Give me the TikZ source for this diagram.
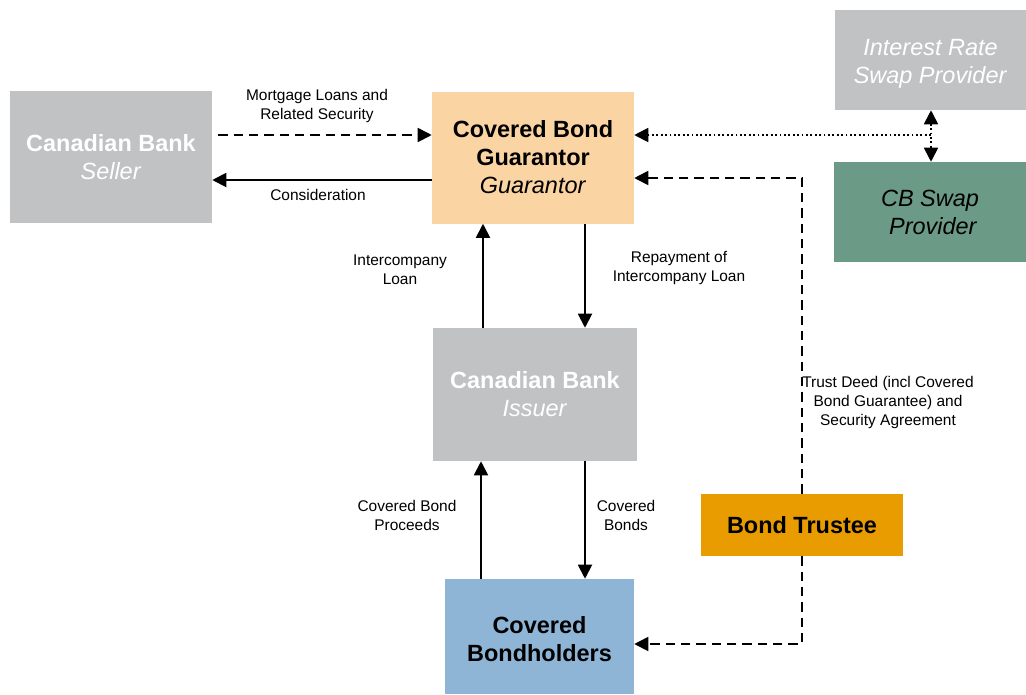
\documentclass[tikz,border=0pt]{standalone}
\usepackage{fontspec}
\setmainfont{Liberation Sans}
\usetikzlibrary{arrows.meta,calc}
\definecolor{bankgray}{HTML}{C1C2C4}
\definecolor{peach}{HTML}{FBD4A3}
\definecolor{swapgreen}{HTML}{6B9A86}
\definecolor{trustorange}{HTML}{E89C00}
\definecolor{holderblue}{HTML}{8EB4D6}
\newcommand{\lowered}[1]{\raisebox{-2.6pt}[\height][\depth]{\begin{tabular}{@{}c@{}}#1\end{tabular}}}
\tikzset{
  box/.style={rectangle,inner sep=0pt,align=center,font=\fontsize{17.6}{21}\selectfont},
  lbl/.style={align=center,inner sep=0pt,font=\fontsize{11.6}{14}\selectfont},
  flow/.style={line width=1.4pt,-{Triangle[length=10.5pt,width=10.5pt]}},
  dflow/.style={line width=1.3pt,dash pattern=on 7pt off 4.5pt,-{Triangle[length=10.5pt,width=10.5pt]}},
}
\begin{document}
\begin{tikzpicture}[x=0.75pt,y=-0.75pt]
\useasboundingbox (0,0) rectangle (1026,694);
% boxes
\node[box,fill=bankgray,text=white,minimum width=151.5pt,minimum height=99pt] (seller) at (111,157)
  {\textbf{Canadian Bank}\\\textit{Seller}};
\node[box,fill=peach,text=black,minimum width=151.5pt,minimum height=99pt] (guar) at (533,157.5)
  {\textbf{Covered Bond}\\\textbf{Guarantor}\\\textit{Guarantor}};
\node[box,fill=bankgray,text=white,minimum width=143.25pt,minimum height=75pt] (irs) at (930.5,60)
  {\lowered{\textit{Interest Rate}\\\textit{Swap Provider}}};
\node[box,fill=swapgreen,text=black,minimum width=144pt,minimum height=75pt] (cbs) at (930,212)
  {\textit{CB Swap}\\\textit{\ Provider}};
\node[box,fill=bankgray,text=white,minimum width=153pt,minimum height=99.75pt] (issuer) at (535,394.5)
  {\textbf{Canadian Bank}\\\textit{Issuer}};
\node[box,fill=trustorange,text=black,minimum width=151.5pt,minimum height=46.5pt] (trustee) at (802,525)
  {\textbf{Bond Trustee}};
\node[box,fill=holderblue,text=black,minimum width=141.75pt,minimum height=86.25pt] (holders) at (539.5,636.5)
  {\raisebox{-4pt}[\height][\depth]{\begin{tabular}{@{}c@{}}\textbf{Covered}\\\textbf{Bondholders}\end{tabular}}};
% connectors
\draw[dflow,shorten <=4.5pt] (seller.east |- 0,135) -- (guar.west |- 0,135);
\draw[flow] (guar.west |- 0,180) -- (seller.east |- 0,180);
\draw[flow] (issuer.north -| 483,0) -- (guar.south -| 483,0);
\draw[flow] (guar.south -| 585,0) -- (issuer.north -| 585,0);
\draw[flow] (holders.north -| 481,0) -- (issuer.south -| 481,0);
\draw[flow] (issuer.south -| 585,0) -- (holders.north -| 585,0);
\coordinate (dj) at (931,135);
\draw[line width=1.3pt,dotted,-{Triangle[length=10.5pt,width=10.5pt]}] (dj) -- (guar.east |- dj);
\draw[line width=1.3pt,dotted,{Triangle[length=10.5pt,width=10.5pt]}-{Triangle[length=10.5pt,width=10.5pt]}] (irs.south -| dj) -- (cbs.north -| dj);
\draw[dflow] (trustee.north) -- (trustee.north |- 0,178) -- (guar.east |- 0,178);
\draw[dflow] (trustee.south) -- (trustee.south |- 0,644) -- (holders.east |- 0,644);
% labels
\node[lbl] (l1) at (317,106) {Mortgage Loans and\\Related Security};
\node[lbl] (l2) at (318,195) {Consideration};
\node[lbl] (l3) at (400,269.5) {Intercompany\\Loan};
\node[lbl] (l4) at (679,268) {Repayment of\\Intercompany Loan};
\node[lbl] (l5) at (888,402.5) {Trust Deed (incl Covered\\Bond Guarantee) and\\Security Agreement};
\node[lbl] (l6) at (407,515.5) {Covered Bond\\Proceeds};
\node[lbl] (l7) at (626,515.5) {Covered\\Bonds};
\end{tikzpicture}
\end{document}
